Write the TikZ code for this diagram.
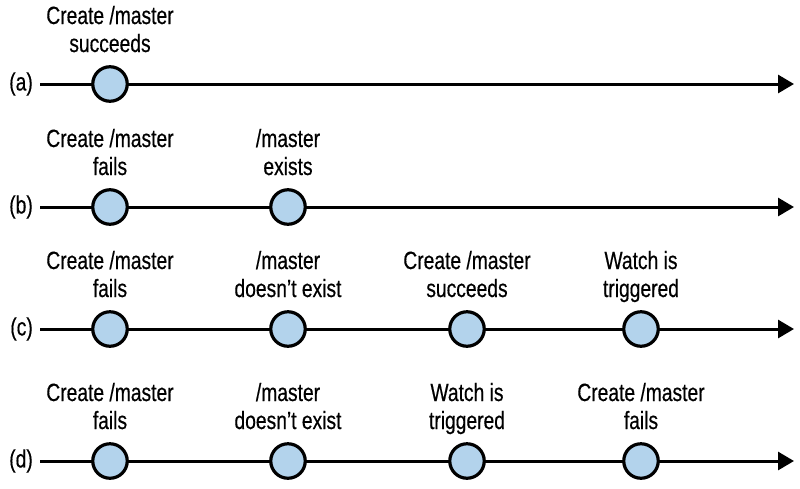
\documentclass[tikz,border=0pt]{standalone}
\usepackage{fontspec}
\setmainfont{Liberation Sans}[FakeStretch=0.77,FakeBold=0.4]
\usetikzlibrary{arrows.meta}
\definecolor{evfill}{HTML}{B3D3EC}
\begin{document}
\begin{tikzpicture}[x=1pt,y=-1pt,
  event/.style={circle,draw=black,line width=3.2pt,fill=evfill,minimum size=34.5pt,inner sep=0pt},
  axis/.style={line width=3pt,-{Triangle[length=16pt,width=18pt]}},
  lbl/.style={align=center,font=\fontsize{25}{28}\selectfont,anchor=base,inner sep=0pt},
  rowlbl/.style={font=\fontsize{25}{28}\selectfont,anchor=east,inner sep=0pt}]
\useasboundingbox (0,0) rectangle (800,488);
% row a
\coordinate (sa) at (40,84); \coordinate (ea) at (794,84);
\node[rowlbl] (la) at (33,84) {(a)};
\draw[axis] (sa) -- (ea);
\node[event] (a1) at (110,84) {};
\node[lbl] (ta1) at (110,52) {Create /master\\succeeds};
% row b
\coordinate (sb) at (40,207); \coordinate (eb) at (794,207);
\node[rowlbl] (lb) at (33,207) {(b)};
\draw[axis] (sb) -- (eb);
\node[event] (b1) at (110,207) {};
\node[event] (b2) at (288,207) {};
\node[lbl] (tb1) at (110,175) {Create /master\\fails};
\node[lbl] (tb2) at (288,175) {/master\\exists};
% row c
\coordinate (sc) at (40,329); \coordinate (ec) at (794,329);
\node[rowlbl] (lc) at (33,329) {(c)};
\draw[axis] (sc) -- (ec);
\node[event] (c1) at (110,329) {};
\node[event] (c2) at (288,329) {};
\node[event] (c3) at (467,329) {};
\node[event] (c4) at (641,329) {};
\node[lbl] (tc1) at (110,297) {Create /master\\fails};
\node[lbl] (tc2) at (288,297) {/master\\doesn’t exist};
\node[lbl] (tc3) at (467,297) {Create /master\\succeeds};
\node[lbl] (tc4) at (641,297) {Watch is\\triggered};
% row d
\coordinate (sd) at (40,461); \coordinate (ed) at (794,461);
\node[rowlbl] (ld) at (33,461) {(d)};
\draw[axis] (sd) -- (ed);
\node[event] (d1) at (110,461) {};
\node[event] (d2) at (288,461) {};
\node[event] (d3) at (467,461) {};
\node[event] (d4) at (641,461) {};
\node[lbl] (td1) at (110,429) {Create /master\\fails};
\node[lbl] (td2) at (288,429) {/master\\doesn’t exist};
\node[lbl] (td3) at (467,429) {Watch is\\triggered};
\node[lbl] (td4) at (641,429) {Create /master\\fails};
\end{tikzpicture}
\end{document}
